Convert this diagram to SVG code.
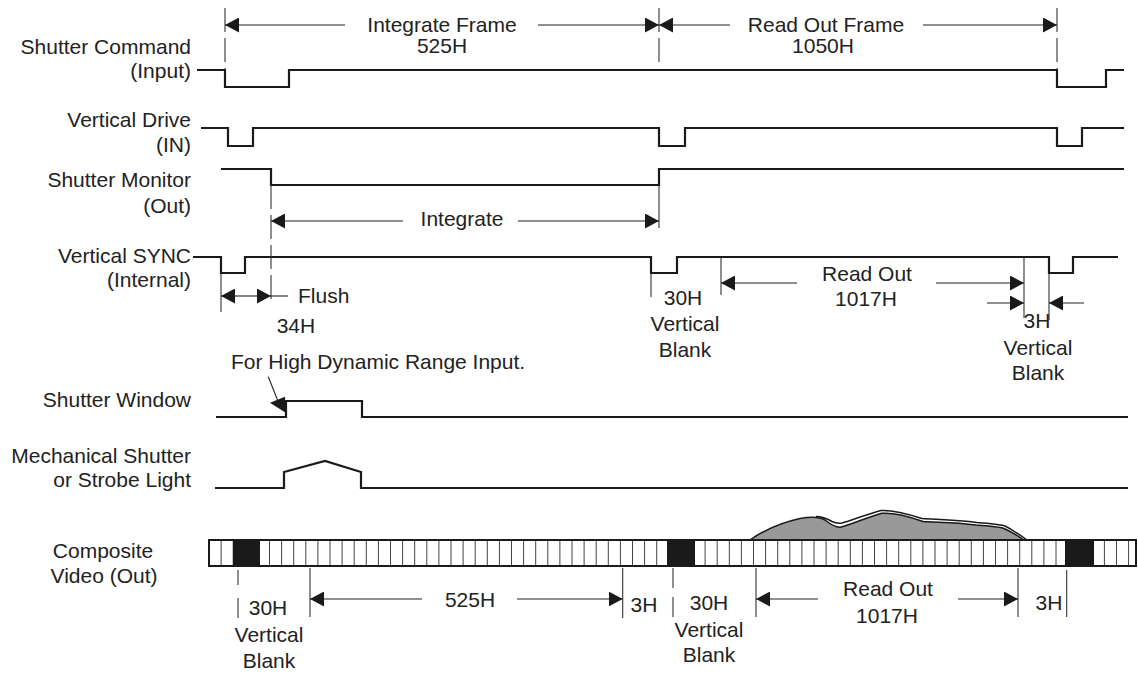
<svg xmlns="http://www.w3.org/2000/svg" width="1138" height="673" viewBox="0 0 1138 673">
<style>
text{font-family:"Liberation Sans",Arial,Helvetica,sans-serif;font-size:21px;fill:#222}
.lbl{text-anchor:end}
.c{text-anchor:middle}
.wave{fill:none;stroke:#1a1a1a;stroke-width:2.2;stroke-linejoin:miter}
.dim{fill:none;stroke:#222;stroke-width:1.1}
.dimA{fill:none;stroke:#222;stroke-width:1.1;marker-end:url(#ah)}
.tick{fill:none;stroke:#333;stroke-width:1.1}
.dash{fill:none;stroke:#333;stroke-width:1.1;stroke-dasharray:24 6}
.cell{fill:none;stroke:#444;stroke-width:1}
</style>
<defs>
<marker id="ah" markerUnits="userSpaceOnUse" markerWidth="14" markerHeight="15" viewBox="0 0 14 15" refX="14" refY="7.5" orient="auto">
<path d="M0,0 L14,7.5 L0,15 z" fill="#1a1a1a"/>
</marker>
</defs>
<rect width="1138" height="673" fill="#fff"/>

<g id="shutter-command">
<text class="lbl" x="191" y="54">Shutter Command</text>
<text class="lbl" x="191" y="78">(Input)</text>
<path class="wave" d="M197,70 H225 V87 H289 V70 H1057 V87 H1106 V70 H1124"/>
</g>
<g id="vertical-drive">
<text class="lbl" x="191" y="127">Vertical Drive</text>
<text class="lbl" x="191" y="152">(IN)</text>
<path class="wave" d="M201,128 H228 V146 H253 V128 H659 V146 H685 V128 H1057 V146 H1082 V128 H1124"/>
</g>
<g id="shutter-monitor">
<text class="lbl" x="191" y="186.5">Shutter Monitor</text>
<text class="lbl" x="191" y="213">(Out)</text>
<path class="wave" d="M221,169 H271 V185 H659 V169 H1124"/>
</g>
<g id="vertical-sync">
<text class="lbl" x="191" y="263">Vertical SYNC</text>
<text class="lbl" x="191" y="287">(Internal)</text>
<path class="wave" d="M193,257 H221 V273 H245 V257 H651 V273 H677 V257 H1049 V273 H1073 V257 H1118"/>
</g>
<g id="shutter-window">
<text class="lbl" x="191" y="407">Shutter Window</text>
<path class="wave" d="M216,417 H286 V401 H362 V417 H1128"/>
</g>
<g id="mechanical-shutter">
<text class="lbl" x="191" y="463">Mechanical Shutter</text>
<text class="lbl" x="191" y="487">or Strobe Light</text>
<path class="wave" d="M215,488 H284 V472 L325,461 L361,472 V488 H1128"/>
</g>
<g id="composite-video">
<text class="c" x="103" y="558">Composite</text>
<text class="c" x="104" y="583">Video (Out)</text>
<path d="M750,540 C760,533 775,524 800,518.5 C812,516.5 820,517 825,520 C830,524 834,527 840,527.3 C850,525 860,520 881.7,513.3 C892,512.5 905,515 923,521.5 C940,522.5 955,522 976,525 C990,526 1000,527 1004,528.5 C1012,532 1018,536 1024,540 Z" fill="#999" stroke="#1a1a1a" stroke-width="1.5"/>
<path d="M816,516.5 C822,516.5 826,518 832,521.5 C836,523.5 839,523.5 842,523 C852,520 865,515 881,510.5 C893,509.8 905,513 922,518.5 C940,519.5 958,519.5 977,522.5 C990,523.5 1000,524.5 1005,526 C1013,530 1020,535 1027,540" fill="none" stroke="#1a1a1a" stroke-width="1.5"/>
<path class="cell" d="M221.1,540V566M233.2,540V566M245.3,540V566M257.4,540V566M269.5,540V566M281.6,540V566M293.7,540V566M305.8,540V566M317.9,540V566M330,540V566M342.1,540V566M354.2,540V566M366.3,540V566M378.4,540V566M390.5,540V566M402.6,540V566M414.7,540V566M426.8,540V566M438.9,540V566M451,540V566M463.1,540V566M475.2,540V566M487.3,540V566M499.4,540V566M511.5,540V566M523.6,540V566M535.7,540V566M547.8,540V566M559.9,540V566M572,540V566M584.1,540V566M596.2,540V566M608.3,540V566M620.4,540V566M632.5,540V566M644.6,540V566M656.7,540V566M668.8,540V566M680.9,540V566M693,540V566M705.1,540V566M717.2,540V566M729.3,540V566M741.4,540V566M753.5,540V566M765.6,540V566M777.7,540V566M789.8,540V566M801.9,540V566M814,540V566M826.1,540V566M838.2,540V566M850.3,540V566M862.4,540V566M874.5,540V566M886.6,540V566M898.7,540V566M910.8,540V566M922.9,540V566M935,540V566M947.1,540V566M959.2,540V566M971.3,540V566M983.4,540V566M995.5,540V566M1007.6,540V566M1019.7,540V566M1031.8,540V566M1043.9,540V566M1056,540V566M1068.1,540V566M1080.2,540V566M1092.3,540V566M1104.4,540V566M1116.5,540V566M1128.6,540V566"/>
<rect x="233" y="540" width="27" height="26" fill="#1a1a1a"/>
<rect x="667" y="540" width="28" height="26" fill="#1a1a1a"/>
<rect x="1065" y="540" width="29" height="26" fill="#1a1a1a"/>
<rect x="209" y="540" width="927" height="26" fill="none" stroke="#1a1a1a" stroke-width="2"/>
</g>

<g id="connectors">
<path class="dash" d="M225,8 V70 M659,8 V63 M1057,8 V70 M271,185 V305"/>
<path class="tick" d="M659,185 V228 M221,273 V312 M651,273 V297 M721,257 V295 M1024,257 V318 M1049,273 V320"/>
<path class="dimA" d="M345,25 H225"/>
<path class="dimA" d="M538,25 H659"/>
<path class="dimA" d="M730,25 H659"/>
<path class="dimA" d="M923,25 H1057"/>
<path class="dimA" d="M403,221 H271"/>
<path class="dimA" d="M518,221 H659"/>
<path class="dimA" d="M246,296 H221"/>
<path class="dimA" d="M246,296 H271"/>
<path class="dim" d="M271,296 H288"/>
<path class="dimA" d="M797,283 H721"/>
<path class="dimA" d="M936,283 H1024"/>
<path class="dimA" d="M987,303 H1024"/>
<path class="dimA" d="M1084,303 H1049"/>
<path class="dim" d="M268.3,376.7 L277.5,400"/>
<polygon points="270,402.7 285,396.7 285.7,412.7" fill="#1a1a1a"/>
<path class="tick" d="M238,570 V585 M238,598 V618 M310,568 V617 M622.7,568 V618 M673,568 V588 M673,597 V617 M756,568 V617 M1018,568 V617 M1066.7,570 V617"/>
<path class="dimA" d="M422,599 H310"/>
<path class="dimA" d="M517,599 H622.7"/>
<path class="dimA" d="M818,599 H756"/>
<path class="dimA" d="M958,599 H1018"/>
</g>

<g id="annotations">
<text class="c" x="442" y="32">Integrate Frame</text>
<text class="c" x="442" y="53">525H</text>
<text class="c" x="826" y="32">Read Out Frame</text>
<text class="c" x="823" y="53">1050H</text>
<text class="c" x="462" y="226">Integrate</text>
<text x="298" y="303">Flush</text>
<text x="276.7" y="333">34H</text>
<text class="c" x="683" y="305">30H</text>
<text class="c" x="685" y="331">Vertical</text>
<text class="c" x="685" y="357">Blank</text>
<text class="c" x="867" y="281">Read Out</text>
<text class="c" x="866" y="306">1017H</text>
<text class="c" x="1037" y="328">3H</text>
<text class="c" x="1038" y="355">Vertical</text>
<text class="c" x="1038" y="380">Blank</text>
<text x="231" y="369">For High Dynamic Range Input.</text>
<text class="c" x="268" y="615">30H</text>
<text class="c" x="269" y="642">Vertical</text>
<text class="c" x="269" y="668">Blank</text>
<text class="c" x="470" y="607">525H</text>
<text class="c" x="644" y="612">3H</text>
<text class="c" x="709" y="610">30H</text>
<text class="c" x="709" y="637">Vertical</text>
<text class="c" x="709" y="662">Blank</text>
<text class="c" x="888" y="596">Read Out</text>
<text class="c" x="887" y="623">1017H</text>
<text class="c" x="1049" y="610">3H</text>
</g>
</svg>
